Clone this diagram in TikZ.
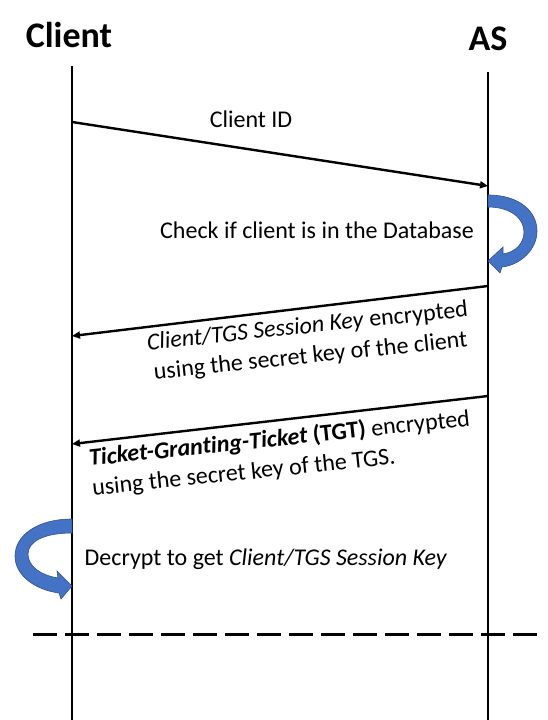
\documentclass[tikz,border=0pt]{standalone}
\usepackage{fontspec}
\setmainfont{Carlito}[Ligatures=NoCommon]
\usetikzlibrary{arrows.meta}
\definecolor{loopblue}{RGB}{68,114,196}
\definecolor{loopedge}{RGB}{47,82,143}
\begin{document}
\begin{tikzpicture}[x=1pt,y=-1pt,
  life/.style={line width=2.8pt},
  msg/.style={line width=2.4pt,-{Triangle[length=8pt,width=7pt]}},
  lbl/.style={font=\fontsize{24}{30}\selectfont, inner sep=0pt},
  ttl/.style={font=\fontsize{36}{40}\selectfont\bfseries, inner sep=0pt},
  loopfill/.style={fill=loopblue, draw=loopedge, line width=0.6pt},
  sep/.style={line width=3pt, dash pattern=on 24pt off 8pt}]
\useasboundingbox (0,0) rectangle (547,720);
% titles
\node[ttl, anchor=base] (client) at (69,47) {Client};
\node[ttl, anchor=base] (as) at (488,50) {AS};
% lifelines
\coordinate (ctop) at (72,66);
\coordinate (cbot) at (72,720);
\coordinate (atop) at (488,72);
\coordinate (abot) at (488,720);
\draw[life] (ctop) -- (cbot);
\draw[life] (atop) -- (abot);
% message 1
\coordinate (m1s) at (72,122);
\coordinate (m1e) at (488,186);
\draw[msg] (m1s) -- (m1e);
\node[lbl, anchor=base] (l1) at (251,127) {Client ID};
% AS self loop
\fill[loopfill] (488,195) .. controls (520,195) and (537,212) .. (537,231)
  .. controls (537,250) and (520,265) .. (502,267)
  -- (500,273) -- (488,261) -- (503,247) -- (503,254)
  .. controls (516,252) and (524,243) .. (524,232)
  .. controls (524,218) and (510,207) .. (488,207) -- cycle;
\node[lbl, anchor=base] (l2) at (317,238) {Check if client is in the Database};
% message 2
\coordinate (m2s) at (488,286);
\coordinate (m2e) at (72,336);
\draw[msg] (m2s) -- (m2e);
\node[lbl, align=center, rotate=6] (l3) at (309,342)
  {\textit{Client/TGS Session Key} encrypted\\using the secret key of the client};
% message 3
\coordinate (m3s) at (488,396);
\coordinate (m3e) at (72,444);
\draw[msg] (m3s) -- (m3e);
\node[lbl, align=left, rotate=6] (l4) at (281,454)
  {\textbf{\textit{Ticket-Granting-Ticket} (TGT)} encrypted\\using the secret key of the TGS.};
% client self loop
\fill[loopfill] (72,519) .. controls (38,519) and (15,535) .. (15,556)
  .. controls (15,576) and (36,590) .. (59,593)
  -- (61,599) -- (72,586) -- (57,571) -- (58,578)
  .. controls (40,575) and (28,566) .. (28,554)
  .. controls (28,541) and (45,533) .. (72,533) -- cycle;
\node[lbl, anchor=base] (l5) at (266,565) {Decrypt to get \textit{Client/TGS Session Key}};
% separator
\coordinate (d1) at (33,634);
\coordinate (d2) at (537,634);
\draw[sep] (d1) -- (d2);
\end{tikzpicture}
\end{document}
